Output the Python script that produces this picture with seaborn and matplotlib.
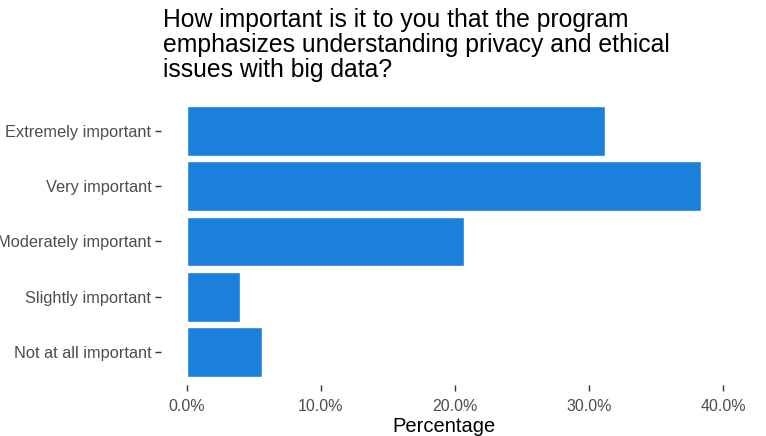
import pandas as pd
import seaborn as sns
import matplotlib.pyplot as plt
from matplotlib.ticker import FuncFormatter

# Survey responses (percent of respondents)
categories = ["Extremely important", "Very important", "Moderately important",
              "Slightly important", "Not at all important"]
percentages = [31.2, 38.3, 20.7, 4.0, 5.6]

df = pd.DataFrame({"Response": categories, "Percentage": percentages})

sns.set_style("white")
plt.rcParams['font.family'] = ['Liberation Sans', 'DejaVu Sans']

W, H = 766, 436
fig = plt.figure(figsize=(W / 100, H / 100), dpi=100)
ax = fig.add_axes([161 / W, (H - 385) / H, (726 - 161) / W, (385 - 98) / H])

sns.barplot(data=df, x="Percentage", y="Response", order=categories,
            color="#1a80dc", saturation=1, width=0.9, ax=ax)

ax.set_xlim(-1.92, 40.2)
ax.set_ylim(4.6, -0.6)
ax.set_xticks([0, 10, 20, 30, 40])
ax.xaxis.set_major_formatter(FuncFormatter(lambda v, p: f"{v:.1f}%"))

for s in ax.spines.values():
    s.set_visible(False)
ax.tick_params(axis="both", bottom=True, left=True, length=4, width=1,
               color="#333333", labelcolor="#4d4d4d", direction="out")
ax.tick_params(axis="y", labelsize=11.8, pad=3)
ax.tick_params(axis="x", labelsize=11.5, pad=6)
ax.set_ylabel("")
ax.set_xlabel("Percentage", fontsize=14.5, labelpad=2, color="black")

fig.text(163 / W, 1 - 8 / H,
         "How important is it to you that the program\n"
         "emphasizes understanding privacy and ethical\n"
         "issues with big data?",
         ha="left", va="top", fontsize=17.8, linespacing=1.04, color="black")

fig.savefig("out.png", dpi=100, facecolor="white")
